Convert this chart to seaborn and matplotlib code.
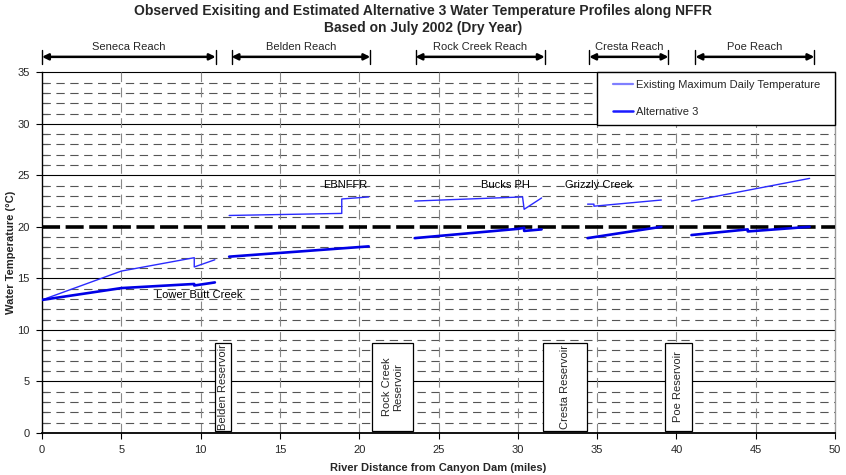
import numpy as np
import pandas as pd
import matplotlib
matplotlib.use("Agg")
import matplotlib.pyplot as plt
from matplotlib.patches import Rectangle
from matplotlib.lines import Line2D
import seaborn as sns

# ---------------- data ----------------
reach_names = ["Seneca Reach", "Belden Reach", "Rock Creek Reach", "Cresta Reach", "Poe Reach"]
reach_start = [0.0, 11.95, 23.55, 34.5, 41.2]
reach_end = [10.95, 20.7, 31.7, 39.5, 48.7]

# Existing maximum daily temperature, one segment per reach
exist_x = [
    [0.0, 5.0, 9.6, 9.6, 10.9],
    [11.8, 18.9, 18.9, 20.6],
    [23.5, 30.3, 30.4, 31.5],
    [34.4, 34.8, 34.8, 39.05],
    [40.95, 48.4],
]
exist_y = [
    [12.9, 15.7, 17.0, 16.1, 16.8],
    [21.1, 21.3, 22.7, 22.9],
    [22.5, 22.9, 21.7, 22.8],
    [22.2, 22.2, 22.0, 22.6],
    [22.5, 24.7],
]
# Alternative 3
alt_x = [
    [0.0, 5.0, 9.6, 9.6, 10.9],
    [11.8, 20.6],
    [23.5, 30.0, 30.4, 30.4, 31.5],
    [34.4, 39.05],
    [40.95, 44.5, 44.5, 48.4],
]
alt_y = [
    [12.9, 14.05, 14.45, 14.3, 14.6],
    [17.1, 18.1],
    [18.9, 19.8, 19.9, 19.6, 19.75],
    [18.9, 20.0],
    [19.2, 19.75, 19.55, 20.0],
]
threshold = 20

site_labels = ["EBNFFR", "Bucks PH", "Grizzly Creek", "Lower Butt Creek"]
site_x = [19.1, 29.2, 35.1, 9.9]
site_y = [24.05, 24.05, 24.05, 13.4]

res_labels = ["Belden Reservoir", "Rock Creek\nReservoir", "Cresta Reservoir", "Poe Reservoir"]
res_x0 = [10.93, 20.79, 31.57, 39.28]
res_x1 = [11.94, 23.41, 34.34, 40.96]
res_y0 = 0.2
res_y1 = 8.7

series_labels = ["Existing Maximum Daily Temperature", "Alternative 3"]

# ---------------- style ----------------
sns.set_theme(style="white")
plt.rcParams["font.family"] = ["Liberation Sans", "DejaVu Sans"]
plt.rcParams["lines.scale_dashes"] = False

fig = plt.figure(figsize=(8.46, 4.75), dpi=100)
ax = fig.add_axes([42 / 846, 1 - 432.8 / 475, (835 - 42) / 846, (432.8 - 72.3) / 475])

ax.set_xlim(0, 50)
ax.set_ylim(0, 35)

# grid
for yv in range(1, 35):
    if yv % 5 == 0:
        continue
    ax.axhline(yv, color="#555555", lw=0.8, ls=(0, (6, 4)), zorder=1)
for yv in [5, 10, 15, 25, 30, 35]:
    ax.axhline(yv, color="black", lw=0.8, zorder=1, clip_on=False)
for xv in range(5, 50, 5):
    ax.axvline(xv, color="#888888", lw=0.8, ls=(0, (7, 4)), zorder=1)

# threshold line
ax.axhline(threshold, color="black", lw=2.6, ls=(0, (13, 4)), zorder=3)

# data lines
for xs, ys in zip(exist_x, exist_y):
    sns.lineplot(x=xs, y=ys, ax=ax, sort=False, estimator=None, color="#2a2aff", lw=1.0, zorder=4)
for xs, ys in zip(alt_x, alt_y):
    sns.lineplot(x=xs, y=ys, ax=ax, sort=False, estimator=None, color="#0000e6", lw=1.9, zorder=4)

# site labels
for t, xv, yv in zip(site_labels, site_x, site_y):
    ax.text(xv, yv, t, ha="center", va="center", fontsize=8, color="black", zorder=5)

# reservoir boxes
for t, a, b in zip(res_labels, res_x0, res_x1):
    ax.add_patch(Rectangle((a, res_y0), b - a, res_y1 - res_y0, facecolor="white",
                           edgecolor="black", lw=0.9, zorder=6))
    ax.text((a + b) / 2, (res_y0 + res_y1) / 2, t, rotation=90, ha="center", va="center",
            fontsize=8, zorder=7, linespacing=1.1)

# reach arrows
ya = 36.5
for name, a, b in zip(reach_names, reach_start, reach_end):
    ax.annotate("", xy=(b, ya), xytext=(a, ya),
                arrowprops=dict(arrowstyle="<|-|>", color="black", lw=1.8,
                                mutation_scale=9, shrinkA=0, shrinkB=0),
                annotation_clip=False)
    for xv in (a, b):
        ax.plot([xv, xv], [35.8, 37.15], color="black", lw=1.0, clip_on=False)
    ax.text((a + b) / 2, 37.5, name, ha="center", va="center", fontsize=8)

# spines / ticks
ax.spines["top"].set_visible(False)
ax.spines["left"].set_color("black")
ax.spines["bottom"].set_color("black")
ax.spines["left"].set_linewidth(1.0)
ax.spines["bottom"].set_linewidth(1.3)
ax.spines["right"].set_color("#999999")
ax.spines["right"].set_linewidth(1.0)

ax.set_xticks(range(0, 51, 5))
ax.set_yticks(range(0, 36, 5))
ax.set_yticks(range(0, 36), minor=True)
ax.tick_params(axis="both", which="major", direction="out", length=4, width=0.8,
               color="black", labelsize=8, pad=5, left=True, bottom=True)
ax.tick_params(axis="y", which="minor", direction="in", length=4, width=0.8, color="black", left=True)

ax.set_xlabel("River Distance from Canyon Dam (miles)", fontsize=8, fontweight="bold", labelpad=5.5)
ax.set_ylabel("Water Temperature (\u00b0C)", fontsize=8, fontweight="bold", labelpad=0.5)

fig.text(0.5, 1 - 11 / 475,
         "Observed Exisiting and Estimated Alternative 3 Water Temperature Profiles along NFFR",
         ha="center", va="center", fontsize=10, fontweight="bold")
fig.text(0.5, 1 - 28 / 475, "Based on July 2002 (Dry Year)",
         ha="center", va="center", fontsize=10, fontweight="bold")

# legend (frame drawn separately to match the reference padding)
frame = Rectangle((0.70, 0.8538), 0.30, 0.1462, transform=ax.transAxes, facecolor="white",
                  edgecolor="black", lw=1.0, zorder=9, clip_on=False)
ax.add_patch(frame)
handles = [Line2D([], [], color="#7f7fff", lw=1.6), Line2D([], [], color="#1a1aff", lw=1.8)]
leg = ax.legend(handles, series_labels, loc="upper left", bbox_to_anchor=(0.7201, 0.978),
                borderaxespad=0, borderpad=0, fontsize=8, handlelength=1.8,
                handletextpad=0.3, labelspacing=1.52, frameon=False)
leg.set_zorder(10)

fig.savefig("out.png", dpi=100)
